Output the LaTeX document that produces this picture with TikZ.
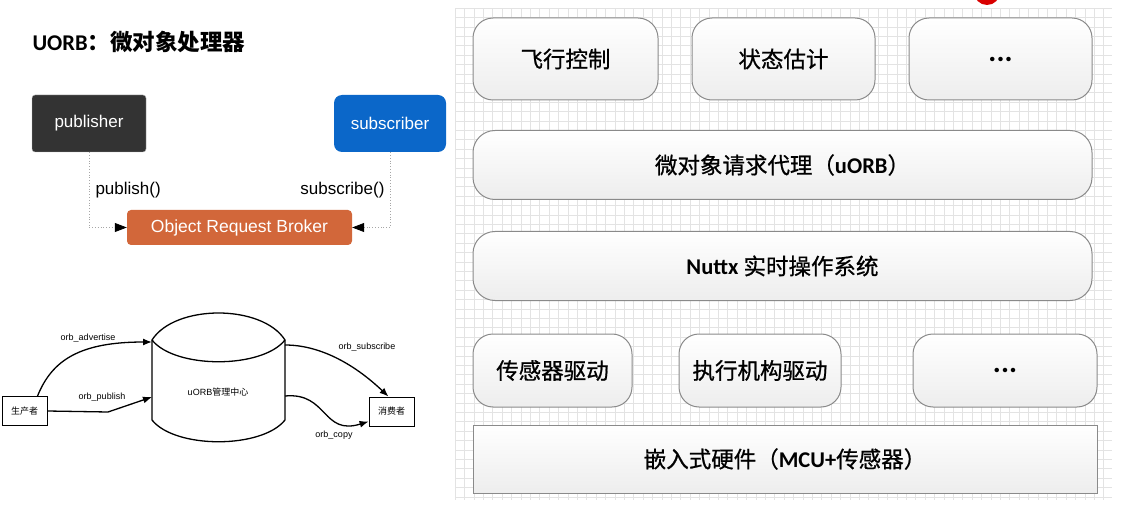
\documentclass[tikz,border=0pt]{standalone}
\usepackage{fontspec}
\setmainfont{Carlito}
\newfontfamily\cjk{Noto Sans CJK SC}
\newfontfamily\cjkmid[FakeBold=0.8]{Noto Sans CJK SC}
\newfontfamily\helv{Liberation Sans}
\usetikzlibrary{arrows.meta}
\definecolor{pubgray}{HTML}{333333}
\definecolor{subblue}{HTML}{0B67C9}
\definecolor{orborange}{HTML}{D2673A}
\definecolor{layerline}{HTML}{8A8A8A}

\begin{document}
\begin{tikzpicture}[x=1pt, y=-1pt,
  title/.style={anchor=west, font=\fontsize{22.5}{26}\selectfont\bfseries},
  role/.style={rectangle, text=white, minimum height=57pt, font=\helv\fontsize{17}{20}\selectfont},
  broker/.style={rectangle, rounded corners=4pt, fill=orborange, text=white, minimum width=225pt, minimum height=35pt, font=\helv\fontsize{17.5}{20}\selectfont},
  call/.style={font=\helv\fontsize{17}{20}\selectfont},
  dotline/.style={gray!70, dotted, thick, -{Triangle[length=12pt,width=9pt,color=black]}},
  smallbox/.style={rectangle, draw, thick, minimum width=45pt, minimum height=29pt, font=\cjk\fontsize{9}{11}\selectfont},
  flow/.style={-{Latex[length=9pt,width=7pt]}, line width=1.3pt},
  flowlabel/.style={font=\helv\fontsize{9}{11}\selectfont},
  layer/.style={rectangle, draw=layerline, line width=1pt, top color=white, bottom color=gray!14, font=\cjkmid\fontsize{22.5}{26}\selectfont},
  app/.style={layer, rounded corners=20pt, minimum height=82pt},
  band/.style={layer, rounded corners=22pt, minimum width=619pt, minimum height=69pt},
  drv/.style={layer, rounded corners=20pt, minimum height=73pt},
  dots/.style={font=\rmfamily\bfseries\fontsize{30}{32}\selectfont},
  gridline/.style={gray!22, line width=0.35pt}
]
\useasboundingbox (0,0) rectangle (1125,513);

%% Title and broker sketch
\node[title] (ttl) at (29,42) {UORB{\cjk\bfseries ：微对象处理器}};
\node[role, fill=pubgray, draw=gray!60, rounded corners=3pt, minimum width=114pt] (pub) at (89,123.5) {publisher};
\node[role, fill=subblue, rounded corners=8pt, minimum width=112pt] (sub) at (390,123.5) {subscriber};
\node[broker] (orb) at (239.5,227.5) {Object Request Broker};
\draw[dotline] (pub.south) |- (orb.west);
\draw[dotline] (sub.south) |- (orb.east);
\node[call, anchor=west] (pcall) at (92,190) {publish()};
\node[call, anchor=east] (scall) at (388,190) {subscribe()};

%% uORB manager
\draw[line width=1.3pt] (152,340) .. controls (175,304) and (262,304) .. (285,340) -- (285,420)
  .. controls (262,449) and (175,449) .. (152,420) -- cycle;
\draw[line width=1.3pt] (152,340) .. controls (175,369) and (262,369) .. (285,340);
\node[flowlabel] (mgr) at (218,392) {uORB{\cjk 管理中心}};
\coordinate (advIn) at (152,342);
\coordinate (pubIn) at (152,397);
\coordinate (subOut) at (285,345);
\coordinate (copyOut) at (285,396);

\node[smallbox] (prod) at (24.5,411) {生产者};
\node[smallbox] (cons) at (391.5,411.5) {消费者};

\draw[flow] ([xshift=13pt]prod.north) .. controls (52,360) and (80,342) .. (advIn);
\draw[flow] (prod.east) -- (108,412) -- (pubIn);
\draw[flow] (subOut) .. controls (318,345) and (352,362) .. ([xshift=-3pt]cons.north);
\draw[flow] (copyOut) .. controls (328,392) and (322,436) .. ([yshift=-10pt]cons.west);

\node[flowlabel] (ladv) at (88,338) {orb\_advertise};
\node[flowlabel] (lpub) at (102,397) {orb\_publish};
\node[flowlabel] (lsub) at (367,347) {orb\_subscribe};
\node[flowlabel] (lcopy) at (334,435) {orb\_copy};

%% Layer stack
\fill[red!85!black] (987,-8) circle (13);
\foreach \gx in {455,464.4,...,1112} \draw[gridline] (\gx,8) -- (\gx,500);
\foreach \gy in {8,17.4,...,500} \draw[gridline] (455,\gy) -- (1112,\gy);

\node[app, minimum width=185pt] (fly) at (565.5,59) {飞行控制};
\node[app, minimum width=183pt] (est) at (783.5,59) {状态估计};
\node[app, dots, minimum width=183pt] (more1) at (1000.5,59) {...};

\node[band] (uorb) at (782.5,165) {微对象请求代理（{\rmfamily\bfseries uORB}）};
\node[band] (rtos) at (782.5,266) {{\rmfamily\bfseries Nuttx} 实时操作系统};

\node[drv, minimum width=159pt] (sens) at (552.5,370.5) {传感器驱动};
\node[drv, minimum width=162pt] (act) at (760,370.5) {执行机构驱动};
\node[drv, dots, minimum width=184pt] (more2) at (1005,370.5) {...};

\node[layer, minimum width=624pt, minimum height=68pt] (hw) at (785,459) {嵌入式硬件（{\rmfamily\bfseries MCU+}传感器）};

\end{tikzpicture}
\end{document}
